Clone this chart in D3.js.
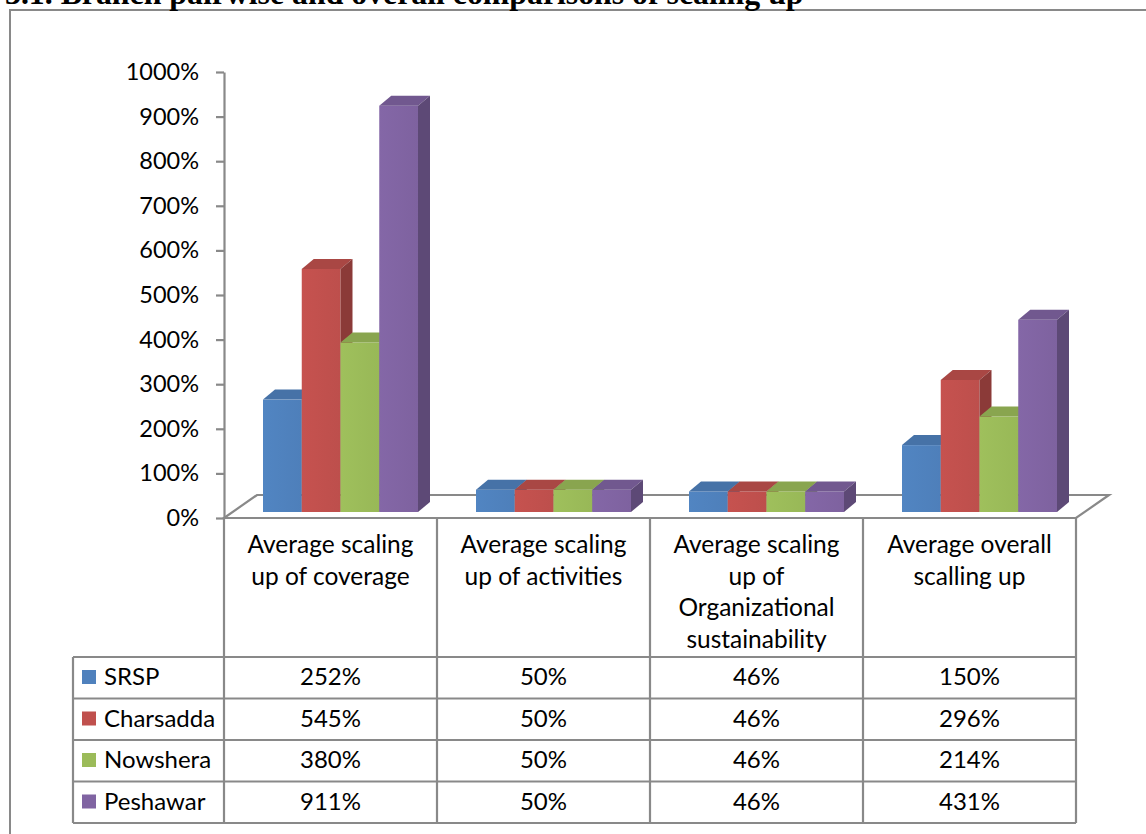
<!DOCTYPE html>
<html><head><meta charset="utf-8">
<script src="https://cdn.jsdelivr.net/npm/d3@7"></script>
<style>
html,body{margin:0;padding:0;background:#fff;overflow:hidden}
svg{display:block}
</style></head>
<body>
<svg id="chart" width="1146" height="834"></svg>
<script>
// ---- data ----
const title = "3.1. Branch pairwise and overall comparisons of scaling up";
const categories = ["Average scaling up of coverage", "Average scaling up of activities", "Average scaling up of Organizational sustainability", "Average overall scalling up"];
const categoryLines = [["Average scaling","up of coverage"],["Average scaling","up of activities"],["Average scaling","up of","Organizational","sustainability"],["Average overall","scalling up"]];
const seriesNames = ["SRSP", "Charsadda", "Nowshera", "Peshawar"];
const seriesColors = ["#4F81BD", "#C0504D", "#9BBB59", "#8064A2"];
const srsp      = [252, 50, 46, 150];
const charsadda = [545, 50, 46, 296];
const nowshera  = [380, 50, 46, 214];
const peshawar  = [911, 50, 46, 431];
const seriesValues = [srsp, charsadda, nowshera, peshawar];
const yTicks = [0,100,200,300,400,500,600,700,800,900,1000];

// ---- layout ----
const svg = d3.select("#chart");
const font = "Lato, 'Open Sans', sans-serif";
const fs = 24;
const grey = "#898989";

// outer frame
svg.append("rect").attr("x",10).attr("y",10).attr("width",1200).attr("height",900)
  .attr("fill","none").attr("stroke",grey).attr("stroke-width",2);

// title (partly cut at the top edge, as in the reference)
svg.append("text").attr("x",5).attr("y",4)
  .attr("font-family","'Liberation Serif', 'Times New Roman', serif")
  .attr("font-weight","bold").attr("font-size",31.8).attr("fill","#000").text(title);

const x = d3.scaleBand().domain(categories).range([224, 1076]).padding(0);
const y = d3.scaleLinear().domain([0, 1000]).range([518, 72]);
const inner = d3.scaleBand().domain(seriesNames).range([39, 194]).padding(0);

const floorDx = 33, floorDy = 23;
const barLift = 6, depthX = 12, depthY = 10;

// floor
const x0 = x.range()[0], x1 = x.range()[1], yf = y(0);
svg.append("path")
  .attr("d", `M${x0},${yf} L${x1},${yf} L${x1+floorDx},${yf-floorDy} L${x0+floorDx},${yf-floorDy} Z`)
  .attr("fill","#fff").attr("stroke",grey).attr("stroke-width",2.2).attr("stroke-linejoin","miter");

// y axis
const axis = d3.axisLeft(y).tickValues(yTicks).tickFormat(d => d + "%").tickSize(8).tickSizeOuter(0).tickPadding(17);
const gAxis = svg.append("g").attr("transform", `translate(${x0},0)`).call(axis);
gAxis.select(".domain").attr("stroke", grey).attr("stroke-width", 2.2);
gAxis.selectAll(".tick line").attr("stroke", grey).attr("stroke-width", 2.2);
gAxis.selectAll(".tick text").attr("font-family", font).attr("font-size", 23.5).attr("fill","#000");

// gradient defs for front faces
const defs = svg.append("defs");
seriesColors.forEach((c,i) => {
  const g = defs.append("linearGradient").attr("id","grad"+i).attr("x1","0").attr("x2","1").attr("y1","0").attr("y2","0");
  g.append("stop").attr("offset","0").attr("stop-color", d3.color(c).brighter(0.08));
  g.append("stop").attr("offset","1").attr("stop-color", d3.color(c).darker(0.05));
});

// bars
const gBars = svg.append("g");
categories.forEach((cat, ci) => {
  seriesNames.forEach((s, si) => {
    const v = seriesValues[si][ci];
    const bx = x(cat) + inner(s);
    const bw = inner.bandwidth();
    const yb = y(0) - barLift;
    const yt = y(v) - barLift;
    const col = d3.color(seriesColors[si]);
    gBars.append("rect").attr("x",bx).attr("y",yt).attr("width",bw).attr("height",yb-yt)
      .attr("fill",`url(#grad${si})`);
    gBars.append("path").attr("d",`M${bx},${yt} L${bx+bw},${yt} L${bx+bw+depthX},${yt-depthY} L${bx+depthX},${yt-depthY} Z`)
      .attr("fill", col.darker(0.35));
    gBars.append("path").attr("d",`M${bx+bw},${yt} L${bx+bw+depthX},${yt-depthY} L${bx+bw+depthX},${yb-depthY} L${bx+bw},${yb} Z`)
      .attr("fill", col.darker(0.9));
  });
});

// data table
const rowTop = 657, rowH = 41.5, legLeft = 73;
const gT = svg.append("g");
const lineAttr = sel => sel.attr("stroke",grey).attr("stroke-width",2.2);
categories.forEach(c => {
  lineAttr(gT.append("line").attr("x1",x(c)).attr("x2",x(c)).attr("y1",yf).attr("y2",rowTop+rowH*4));
});
lineAttr(gT.append("line").attr("x1",x1).attr("x2",x1).attr("y1",yf).attr("y2",rowTop+rowH*4));
lineAttr(gT.append("line").attr("x1",legLeft).attr("x2",legLeft).attr("y1",rowTop).attr("y2",rowTop+rowH*4));
for (let r = 0; r <= 4; r++) {
  lineAttr(gT.append("line").attr("x1",legLeft).attr("x2",x1).attr("y1",rowTop+rowH*r).attr("y2",rowTop+rowH*r));
}
categories.forEach((c, ci) => {
  const t = gT.append("text").attr("font-family",font).attr("font-size",24.5).attr("fill","#000").attr("text-anchor","middle");
  categoryLines[ci].forEach((ln, li) => {
    t.append("tspan").attr("x", x(c) + x.bandwidth()/2).attr("y", 553 + li*31.7).text(ln);
  });
});
seriesNames.forEach((s, si) => {
  const ry = rowTop + rowH*si;
  gT.append("rect").attr("x",82).attr("y",ry+13).attr("width",14).attr("height",14).attr("fill",seriesColors[si]);
  gT.append("text").attr("x",104).attr("y",ry+28).attr("font-family",font).attr("font-size",fs).attr("fill","#000").text(s);
  categories.forEach((c, ci) => {
    gT.append("text").attr("x",x(c)+x.bandwidth()/2).attr("y",ry+28).attr("text-anchor","middle")
      .attr("font-family",font).attr("font-size",fs).attr("fill","#000").text(seriesValues[si][ci] + "%");
  });
});
</script>
</body></html>
